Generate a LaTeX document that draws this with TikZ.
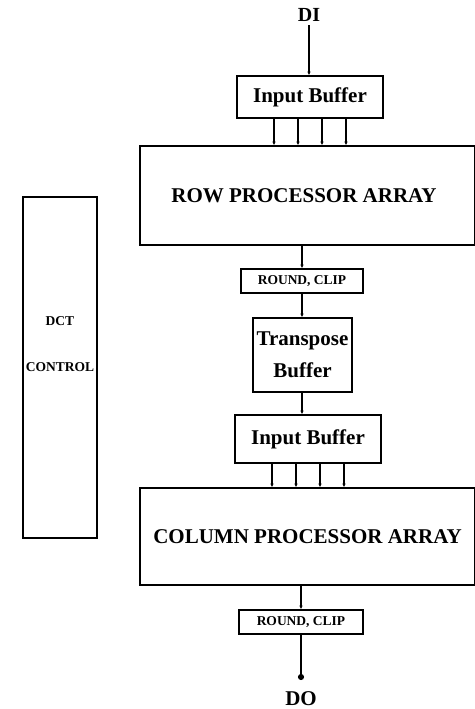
\documentclass[tikz,border=0pt]{standalone}
\usepackage{fontspec}
\setmainfont{Liberation Serif}
\usetikzlibrary{arrows.meta, positioning}

\begin{document}
\begin{tikzpicture}[x=1pt,y=-1pt, every node/.style={font=\bfseries},
    blk/.style={draw, line width=1.6pt, rectangle, inner sep=0pt},
    wire/.style={line width=1.9pt, -{Latex[length=3.5pt,width=3.5pt]}}]
    \useasboundingbox (0,0) rectangle (474,709);
    \node[font=\bfseries\fontsize{20}{22}\selectfont] (di) at (309,15) {DI};
    \node[blk, minimum width=146pt, minimum height=42pt, font=\bfseries\fontsize{21}{24}\selectfont] (inbuf1) at (310,97) {Input Buffer};
    \node[blk, minimum width=335pt, minimum height=99pt, font=\bfseries\fontsize{21}{24}\selectfont] (rowarr) at (307.5,195.5) {\hspace*{-7pt}ROW PROCESSOR ARRAY};
    \node[blk, minimum width=122pt, minimum height=24pt, font=\bfseries\fontsize{13.5}{15}\selectfont] (rc1) at (302,281) {ROUND, CLIP};
    \node[blk, minimum width=99pt, minimum height=74pt, align=center, font=\bfseries\fontsize{21}{24}\selectfont] (trans) at (302.5,355) {Transpose\\[8pt]Buffer};
    \node[blk, minimum width=146pt, minimum height=48pt, font=\bfseries\fontsize{21}{24}\selectfont] (inbuf2) at (308,439) {Input Buffer};
    \node[blk, minimum width=335pt, minimum height=97pt, font=\bfseries\fontsize{21}{24}\selectfont] (colarr) at (307.5,536.5) {COLUMN PROCESSOR ARRAY};
    \node[blk, minimum width=124pt, minimum height=24pt, font=\bfseries\fontsize{13.5}{15}\selectfont] (rc2) at (301,622) {ROUND, CLIP};
    \coordinate (dout) at (301,680);
    \node[font=\bfseries\fontsize{21}{24}\selectfont] (do) at (301,699) {DO};
    \node[blk, minimum width=74pt, minimum height=341pt] (ctrl) at (60,367.5) {};
    \node[align=center, font=\bfseries\fontsize{13.5}{15}\selectfont] (ctrltxt) at (60,344) {DCT\\[31pt]CONTROL};
    % data path
    \draw[wire] (di) -- (inbuf1.north -| di);
    \foreach \dx in {-36,-12,12,36}
        \draw[wire] ([xshift=\dx pt]inbuf1.south) -- ([xshift=\dx pt]inbuf1.south |- rowarr.north);
    \draw[wire] (rc1.north |- rowarr.south) -- (rc1.north);
    \draw[wire] (rc1.south) -- (rc1.south |- trans.north);
    \draw[wire] (rc1.south |- trans.south) -- (rc1.south |- inbuf2.north);
    \foreach \dx in {-36,-12,12,36}
        \draw[wire] ([xshift=\dx pt]inbuf2.south) -- ([xshift=\dx pt]inbuf2.south |- colarr.north);
    \draw[wire] (rc2.north |- colarr.south) -- (rc2.north);
    \draw[line width=1.9pt, -{Circle[length=6pt]}] (rc2.south) -- (dout);
\end{tikzpicture}
\end{document}
